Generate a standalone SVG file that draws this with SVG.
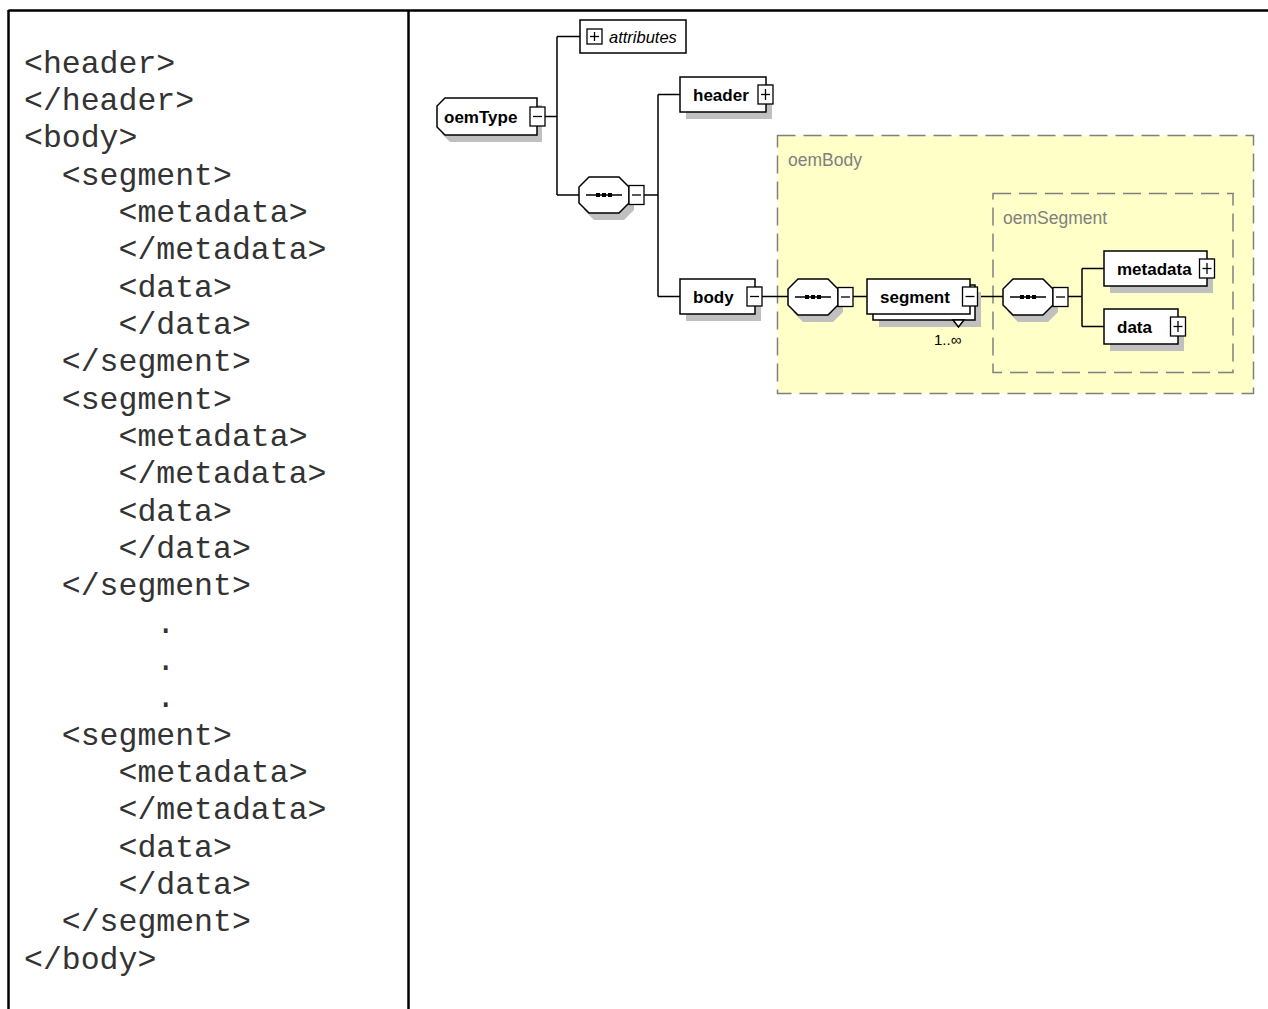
<svg xmlns="http://www.w3.org/2000/svg" xmlns:xlink="http://www.w3.org/1999/xlink" width="1268" height="1009" viewBox="0 0 1268 1009">
<style>
.frame{stroke:#000;stroke-width:2.5;fill:none}
.code{font-family:"Liberation Mono","Courier New",monospace;font-size:31.5px;fill:#333}
.box{fill:#fff;stroke:#000;stroke-width:1.5}
.shadow{fill:#c0c0c0;stroke:none}
.pm rect{fill:#fff;stroke:#000;stroke-width:1.3}
.pm line{stroke:#000;stroke-width:1.3}
.lbl{font-family:"Liberation Sans",Arial,sans-serif;font-weight:bold;font-size:17px;fill:#000}
.attr{font-family:"Liberation Sans",Arial,sans-serif;font-style:italic;font-size:16.5px;fill:#000}
.occ{font-family:"Liberation Sans",Arial,sans-serif;font-size:15px;fill:#000}
.conn{stroke:#000;stroke-width:1.5;fill:none}
.region{fill:#ffffc8;stroke:#808080;stroke-width:1.5;stroke-dasharray:18 8}
.rlbl{font-family:"Liberation Sans",Arial,sans-serif;font-size:17.5px;fill:#808080}
</style>
<defs>
<g id="minus" class="pm"><rect x="0" y="0" width="15" height="19"/><line x1="3" y1="9.5" x2="12" y2="9.5"/></g>
<g id="plus" class="pm"><rect x="0" y="0" width="15" height="19"/><line x1="3" y1="9.5" x2="12" y2="9.5"/><line x1="7.5" y1="4" x2="7.5" y2="15"/></g>
<polygon id="oct" points="10,0 40,0 50,10 50,26 40,36 10,36 0,26 0,10"/>
<g id="seq">
<use xlink:href="#oct" href="#oct" x="5" y="7" class="shadow"/>
<use xlink:href="#oct" href="#oct" class="box"/>
<line x1="7" y1="18" x2="43" y2="18" stroke="#000" stroke-width="1.5"/>
<rect x="17" y="16" width="4" height="4" fill="#000"/>
<rect x="23" y="16" width="4" height="4" fill="#000"/>
<rect x="29" y="16" width="4" height="4" fill="#000"/>
<use xlink:href="#minus" href="#minus" x="50" y="8.5"/>
</g>
</defs>
<rect width="1268" height="1009" fill="#fff"/>
<g id="table">
<line class="frame" x1="8.5" y1="10.5" x2="1268" y2="10.5"/>
<line class="frame" x1="8.5" y1="10" x2="8.5" y2="1009"/>
<line class="frame" x1="408.5" y1="10" x2="408.5" y2="1009"/>
</g>
<g id="code" class="code">
<text x="24" y="72.5">&lt;header&gt;</text>
<text x="24" y="109.8">&lt;/header&gt;</text>
<text x="24" y="147.2">&lt;body&gt;</text>
<text x="61.8" y="184.5">&lt;segment&gt;</text>
<text x="118.5" y="221.8">&lt;metadata&gt;</text>
<text x="118.5" y="259.2">&lt;/metadata&gt;</text>
<text x="118.5" y="296.5">&lt;data&gt;</text>
<text x="118.5" y="333.8">&lt;/data&gt;</text>
<text x="61.8" y="371.2">&lt;/segment&gt;</text>
<text x="61.8" y="408.5">&lt;segment&gt;</text>
<text x="118.5" y="445.8">&lt;metadata&gt;</text>
<text x="118.5" y="483.2">&lt;/metadata&gt;</text>
<text x="118.5" y="520.5">&lt;data&gt;</text>
<text x="118.5" y="557.8">&lt;/data&gt;</text>
<text x="61.8" y="595.2">&lt;/segment&gt;</text>
<text x="156.3" y="632.5">.</text>
<text x="156.3" y="669.8">.</text>
<text x="156.3" y="707.2">.</text>
<text x="61.8" y="744.5">&lt;segment&gt;</text>
<text x="118.5" y="781.8">&lt;metadata&gt;</text>
<text x="118.5" y="819.2">&lt;/metadata&gt;</text>
<text x="118.5" y="856.5">&lt;data&gt;</text>
<text x="118.5" y="893.8">&lt;/data&gt;</text>
<text x="61.8" y="931.2">&lt;/segment&gt;</text>
<text x="24" y="968.5">&lt;/body&gt;</text>
</g>
<g id="oemBody">
<rect class="region" x="777.5" y="135.5" width="476" height="258"/>
<text class="rlbl" x="788" y="166">oemBody</text>
</g>
<g id="oemSegment">
<rect class="region" x="993" y="193.5" width="240" height="179"/>
<text class="rlbl" x="1003" y="224">oemSegment</text>
</g>
<g id="connectors" class="conn">
<path d="M545,116.5 H557 M557,36.5 V195 M557,36.5 H580 M557,195 H579"/>
<path d="M643,195 H658 M658,94.5 V296.5 M658,94.5 H680 M658,296.5 H680"/>
<path d="M762,296.5 H788"/>
<path d="M852,296.5 H867"/>
<path d="M977,296.5 H1003"/>
<path d="M1068,296.5 H1082 M1082,268.5 V326.5 M1082,268.5 H1104 M1082,326.5 H1104"/>
</g>
<g id="oemType">
<polygon class="shadow" points="450,105 542,105 542,142 450,142 442,134 442,113"/>
<polygon class="box" points="445,98 537,98 537,135 445,135 437,127 437,106"/>
<text class="lbl" x="444" y="122.5">oemType</text>
<use xlink:href="#minus" href="#minus" x="530" y="107"/>
</g>
<g id="attributes">
<rect class="box" x="580" y="20" width="106" height="33"/>
<g class="pm"><rect x="587" y="29" width="15" height="15"/><line x1="590" y1="36.5" x2="599" y2="36.5"/><line x1="594.5" y1="32" x2="594.5" y2="41"/></g>
<text class="attr" x="609" y="42.5">attributes</text>
</g>
<g id="seq1"><use xlink:href="#seq" href="#seq" x="579" y="177"/></g>
<g id="header">
<rect class="shadow" x="686" y="84" width="86" height="35"/>
<rect class="box" x="680" y="77" width="86" height="35"/>
<text class="lbl" x="693" y="101">header</text>
<use xlink:href="#plus" href="#plus" x="758" y="85"/>
</g>
<g id="body">
<rect class="shadow" x="686" y="286" width="75" height="35"/>
<rect class="box" x="680" y="279" width="75" height="35"/>
<text class="lbl" x="693" y="303">body</text>
<use xlink:href="#minus" href="#minus" x="747" y="287"/>
</g>
<g id="seq2"><use xlink:href="#seq" href="#seq" x="788" y="279"/></g>
<g id="segment">
<rect class="shadow" x="879" y="292" width="102" height="35"/>
<rect class="box" x="873" y="285" width="102" height="35"/>
<polygon class="box" points="953,320 964,320 958.5,327"/>
<rect class="box" x="867" y="279" width="103" height="35"/>
<text class="lbl" x="880" y="303">segment</text>
<use xlink:href="#minus" href="#minus" x="962.5" y="287"/>
<text class="occ" x="934" y="345">1..∞</text>
</g>
<g id="seq3"><use xlink:href="#seq" href="#seq" x="1003" y="279"/></g>
<g id="metadata">
<rect class="shadow" x="1110" y="258" width="103" height="35"/>
<rect class="box" x="1104" y="251" width="103" height="35"/>
<text class="lbl" x="1117" y="275">metadata</text>
<use xlink:href="#plus" href="#plus" x="1199.5" y="259"/>
</g>
<g id="data">
<rect class="shadow" x="1110" y="316" width="74" height="35"/>
<rect class="box" x="1104" y="309" width="74" height="35"/>
<text class="lbl" x="1117" y="333">data</text>
<use xlink:href="#plus" href="#plus" x="1170.5" y="317"/>
</g>
</svg>
